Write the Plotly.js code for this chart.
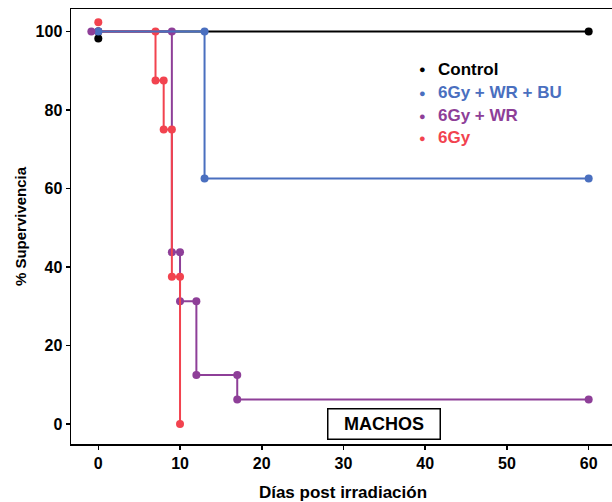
<!DOCTYPE html>
<html>
<head>
<meta charset="utf-8">
<script src="https://cdn.plot.ly/plotly-3.0.1.min.js"></script>
<style>
html, body { margin: 0; padding: 0; overflow: hidden; background: #fff; }
#chart { width: 620px; height: 502px; }
</style>
</head>
<body>
<div id="chart"></div>
<script>
// Kaplan-Meier data: event times (days) and survival (%)
const seriesNames = ["Control", "6Gy + WR + BU", "6Gy + WR", "6Gy"];
const seriesColors = ["#000000", "#4a6fbf", "#8e3f98", "#f2434f"];

const controlTimes = [0, 60];
const controlSurv  = [100, 100];

const buTimes = [0, 13, 60];
const buSurv  = [100, 62.5, 62.5];

const wrTimes = [0, 9, 10, 12, 17, 60];
const wrSurv  = [100, 43.75, 31.25, 12.5, 6.25, 6.25];

const gyTimes = [0, 7, 8, 9, 10];
const gySurv  = [100, 87.5, 75, 37.5, 0];

// jittered starting points drawn at day 0 (Control, BU, WR, 6Gy)
const startX = [0, 0, -0.85, 0];
const startY = [98.2, 100, 100, 102.3];

const xTicks = [0, 10, 20, 30, 40, 50, 60];
const yTicks = [0, 20, 40, 60, 80, 100];

function stepVertices(t, s) {
  const xs = [t[0]], ys = [s[0]];
  for (let i = 1; i < t.length; i++) {
    xs.push(t[i]); ys.push(s[i - 1]);
    if (s[i] !== s[i - 1]) { xs.push(t[i]); ys.push(s[i]); }
  }
  return {xs, ys};
}

function kmTrace(t, s, color) {
  const v = stepVertices(t, s);
  return {
    x: v.xs, y: v.ys, type: "scatter", mode: "lines+markers",
    line: {color: color, width: 2},
    marker: {color: color, size: 8},
    showlegend: false, hoverinfo: "skip", cliponaxis: false
  };
}

const traces = [
  kmTrace(controlTimes, controlSurv, seriesColors[0]),
  kmTrace(wrTimes, wrSurv, seriesColors[2]),
  kmTrace(gyTimes, gySurv, seriesColors[3]),
  kmTrace(buTimes, buSurv, seriesColors[1]),
  {
    x: startX, y: startY, type: "scatter", mode: "markers",
    marker: {color: seriesColors, size: 8},
    showlegend: false, hoverinfo: "skip", cliponaxis: false
  }
];

const font = "Liberation Sans, Arial, sans-serif";
const legendRowsY = [0.861, 0.808, 0.755, 0.704];
const annotations = [];
seriesNames.forEach((n, i) => {
  annotations.push({
    xref: "paper", yref: "paper", x: 0.647, y: legendRowsY[i],
    xanchor: "center", yanchor: "middle", showarrow: false,
    text: "●", font: {family: font, size: 11, color: seriesColors[i]}
  });
  annotations.push({
    xref: "paper", yref: "paper", x: 0.671, y: legendRowsY[i],
    xanchor: "left", yanchor: "middle", showarrow: false,
    text: "<b>" + n + "</b>", font: {family: font, size: 17, color: seriesColors[i]}
  });
});
annotations.push({
  xref: "x", yref: "y", x: 35, y: 0, xanchor: "center", yanchor: "middle",
  showarrow: false, text: "<b>MACHOS</b>",
  font: {family: font, size: 18, color: "#000"},
  width: 107, height: 25, align: "center", valign: "middle",
  bordercolor: "#000", borderwidth: 1.5, borderpad: 2, bgcolor: "#fff"
});

const layout = {
  width: 620, height: 502,
  margin: {l: 71, r: 5, t: 9, b: 58},
  paper_bgcolor: "#fff", plot_bgcolor: "#fff",
  font: {family: font, color: "#000"},
  xaxis: {
    range: [-3.34, 63.22], tickvals: xTicks, ticktext: xTicks.map(v => "<b>" + v + "</b>"),
    showgrid: false, zeroline: false, showline: true, mirror: true,
    linecolor: "#000", linewidth: 1.5, ticks: "outside", ticklen: 4, tickwidth: 1.5, tickcolor: "#000",
    tickfont: {family: font, size: 16, color: "#000"},
    title: {text: "<b>Días post irradiación</b>", font: {family: font, size: 17, color: "#000"}, standoff: 16}
  },
  yaxis: {
    range: [-5.1, 105.7], tickvals: yTicks, ticktext: yTicks.map(v => "<b>" + v + "</b>"),
    showgrid: false, zeroline: false, showline: true, mirror: true,
    linecolor: "#000", linewidth: 1.5, ticks: "outside", ticklen: 4, tickwidth: 1.5, tickcolor: "#000",
    tickfont: {family: font, size: 16, color: "#000"},
    title: {text: "<b>% Supervivencia</b>", font: {family: font, size: 15, color: "#000"}, standoff: 5}
  },
  annotations: annotations
};

Plotly.newPlot("chart", traces, layout, {displayModeBar: false, staticPlot: true});
</script>
</body>
</html>
